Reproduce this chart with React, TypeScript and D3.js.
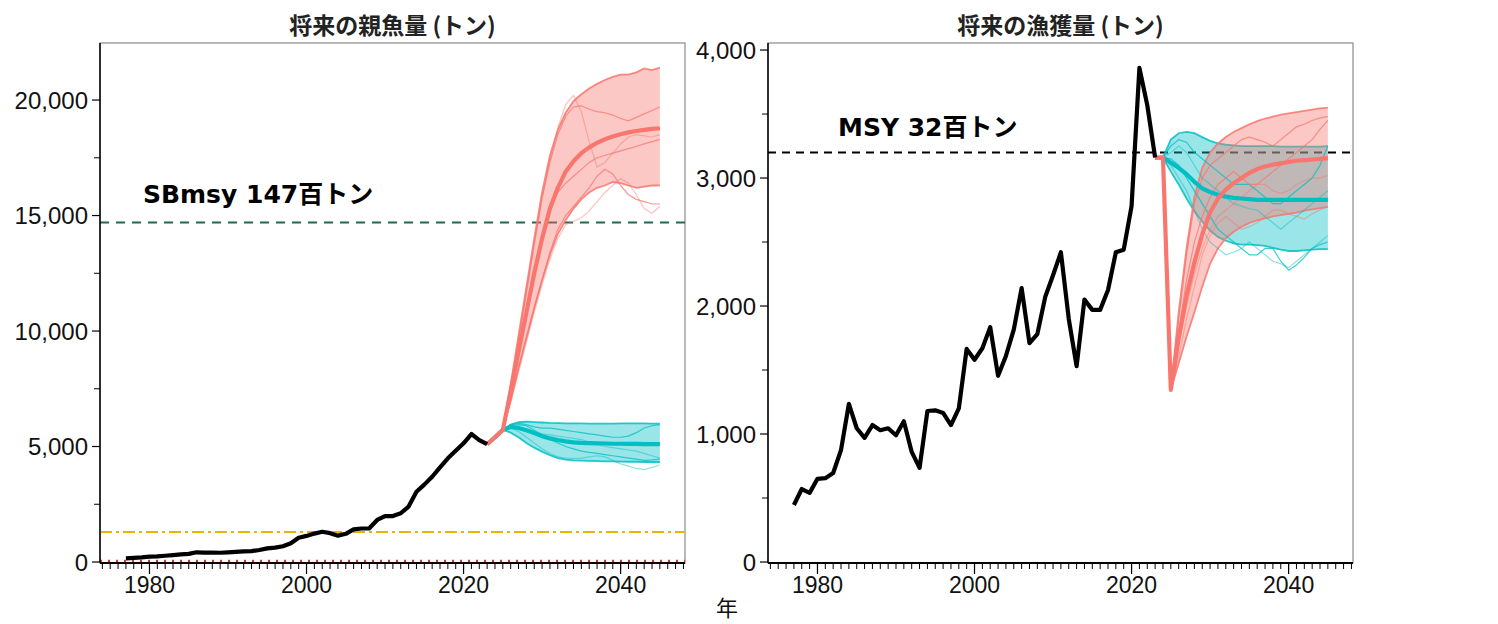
import React from 'react';
import * as d3 from 'd3';

// ---------- data ----------
const obsYears = d3.range(1977, 2024);
const futYears = d3.range(2023, 2046);

const ssbObs = [160,180,200,230,240,270,300,330,350,420,
  410,410,400,420,440,460,470,520,590,620,
  680,810,1050,1130,1230,1310,1250,1140,1220,1415,
  1450,1460,1820,1990,1990,2110,2400,3040,3350,3690,
  4100,4490,4820,5140,5540,5280,5100];

const catchObs = [445,570,540,650,655,695,875,1235,1045,970,
  1070,1030,1045,990,1100,860,735,1180,1185,1165,
  1070,1200,1665,1580,1670,1835,1455,1610,1815,2140,
  1710,1780,2070,2240,2420,1900,1530,2050,1970,1970,
  2125,2420,2440,2780,3860,3570,3160];

// future SSB, Fmsy-type scenario (red)
const redSsbMed = [5100,5400,5720,7400,9100,10800,12500,14000,15300,16200,16900,17350,17700,17950,18150,18300,18420,18520,18600,18660,18710,18750,18780];
const redSsbHi = [5100,5400,5720,7700,9800,11900,14000,16000,17600,18700,19450,19950,20250,20500,20700,20870,21000,21100,21100,21200,21370,21300,21400];
const redSsbLo = [5100,5400,5720,7000,8400,9700,11000,12200,13300,14200,14800,15300,15700,16000,16200,16300,16450,16400,16300,16200,16250,16300,16300];
const redSsbSims = [
  [5100,5400,5720,7600,9600,11700,13800,15800,17300,18500,19300,19700,19750,19600,19500,19450,19350,19200,19100,19250,19400,19550,19700],
  [5100,5400,5720,7500,9500,11600,13700,15700,17400,18800,19800,20200,19500,18200,17100,17300,17700,18100,18400,18500,18450,18400,18500],
  [5100,5400,5720,7000,8400,9700,11000,12200,13400,14400,15000,15400,15800,16200,16700,17000,16800,16300,15900,15700,15600,15500,15500],
  [5100,5400,5720,6900,8200,9500,10800,12000,13100,14000,14600,14750,14900,15200,15600,16000,16300,16600,16400,15900,15300,15100,15400],
  [5100,5400,5720,7300,9000,10700,12400,14000,15300,16000,16400,16700,17000,17300,17500,17600,17700,17800,17900,18000,18100,18200,18300],
];

// future SSB, current-catch scenario (cyan)
const cyanSsbMed = [5100,5400,5720,5850,5800,5700,5580,5450,5350,5280,5220,5180,5160,5150,5140,5130,5120,5120,5110,5110,5100,5100,5100];
const cyanSsbHi = [5100,5400,5720,5950,6050,6080,6060,6040,6020,6010,6000,6000,6000,5990,5990,5990,5990,6000,6000,6000,6000,5990,5990];
const cyanSsbLo = [5100,5400,5720,5600,5400,5150,4950,4780,4620,4500,4430,4400,4390,4380,4370,4360,4360,4350,4340,4340,4330,4330,4330];
const cyanSsbSims = [
  [5100,5400,5720,5900,5950,5900,5700,5500,5300,5150,5000,4900,4800,4750,4700,4650,4600,4550,4500,4450,4400,4420,4450],
  [5100,5400,5720,5800,5650,5400,5150,4900,4700,4550,4500,4480,4500,4550,4600,4550,4400,4250,4150,4050,4000,4100,4200],
  [5100,5400,5720,5950,6000,5950,5850,5800,5800,5750,5700,5650,5600,5550,5500,5450,5400,5400,5450,5600,5800,5900,5950],
  [5100,5400,5720,5850,5850,5750,5650,5550,5500,5450,5400,5350,5300,5200,5100,5000,4950,4900,4850,4800,4700,4600,4500],
];

// future catch (red)
const redCatchMed = [3160,3160,1345,1750,2080,2340,2560,2730,2840,2910,2960,3000,3040,3070,3090,3105,3115,3125,3135,3140,3145,3150,3155];
const redCatchHi = [3160,3160,1345,1950,2450,2850,3080,3200,3270,3320,3360,3390,3420,3445,3465,3480,3495,3505,3515,3525,3535,3545,3550];
const redCatchLo = [3160,3160,1345,1550,1760,1950,2150,2330,2450,2530,2580,2620,2650,2670,2685,2700,2710,2720,2730,2745,2755,2765,2775];
const redCatchSims = [
  [3160,3160,1345,1900,2400,2800,3000,3100,3150,3200,3250,3300,3320,3300,3280,3250,3300,3350,3400,3420,3450,3470,3480],
  [3160,3160,1345,1600,1900,2150,2400,2550,2650,2700,2650,2600,2620,2650,2700,2750,2750,2720,2700,2680,2720,2750,2780],
  [3160,3160,1345,1800,2200,2500,2700,2850,2950,3000,3050,3000,2950,2950,3000,3050,3100,3150,3200,3250,3300,3380,3450],
  [3160,3160,1345,1700,2000,2250,2450,2600,2700,2750,2800,2850,2900,2950,2950,2900,2880,2900,2950,2980,3000,3000,3020],
];

// future catch (cyan)
const cyanCatchMed = [3160,3160,3120,3080,3030,2970,2920,2890,2870,2855,2845,2840,2835,2830,2830,2830,2830,2830,2830,2830,2830,2830,2830];
const cyanCatchHi = [3160,3160,3300,3350,3360,3350,3320,3290,3270,3260,3255,3250,3250,3250,3250,3250,3245,3245,3245,3245,3245,3245,3250];
const cyanCatchLo = [3160,3160,3050,2950,2840,2740,2660,2590,2540,2510,2490,2480,2480,2475,2470,2455,2440,2430,2430,2435,2440,2445,2445];
const cyanCatchSims = [
  [3160,3160,3250,3300,3280,3200,3150,3100,3050,3000,2950,2950,2950,2900,2850,2800,2800,2850,2900,2950,3000,3100,3250],
  [3160,3160,3100,3000,2900,2750,2600,2500,2450,2400,2420,2450,2500,2450,2400,2350,2330,2300,2350,2400,2450,2500,2550],
  [3160,3160,3150,3100,3000,2900,2800,2700,2600,2550,2500,2450,2400,2400,2450,2450,2350,2280,2320,2380,2450,2480,2500],
  [3160,3160,3200,3250,3200,3100,3000,2950,2900,2850,2800,2780,2760,2750,2700,2650,2600,2650,2700,2750,2800,2850,2900],
];

const ssbTicks = [0, 5000, 10000, 15000, 20000];
const ssbMinor = [2500, 7500, 12500, 17500];
const catchTicks = [0, 1000, 2000, 3000, 4000];
const catchMinor = [500, 1500, 2500, 3500];
const yearTicks = [1980, 2000, 2020, 2040];
const yearMinor = d3.range(1974, 2049);

const SBMSY = 14700;
const SBLIMIT = 1300;
const SBBAN = 50;
const MSY = 3200;

const RED = '#F8766D';
const CYAN = '#00BFC4';
const LABEL_FONT = "'Liberation Sans', Arial, sans-serif";
const JP_FONT = "'Noto Sans CJK JP', sans-serif";
const NOTE_FONT = "'DejaVu Sans', 'Noto Sans CJK JP', sans-serif";

// ---------- panel ----------
type Band = { med: number[]; hi: number[]; lo: number[]; sims: number[][]; color: string };

function Panel(props: {
  x0: number; x1: number; top: number; bottom: number; ymax: number;
  obs: number[]; bands: Band[]; yTicks: number[]; yMinor: number[]; title: string;
  refs: (y: d3.ScaleLinear<number, number>) => React.ReactNode;
}) {
  const { x0, x1, top, bottom, ymax, obs, bands, yTicks, yMinor, title } = props;
  const x = d3.scaleLinear().domain([1973.7, 2048.2]).range([x0, x1]);
  const y = d3.scaleLinear().domain([0, ymax]).range([bottom, top]);
  const fmt = d3.format(',');
  const line = d3.line<number>().x((_, i) => x(futYears[i])).y(d => y(d));
  const obsLine = d3.line<number>().x((_, i) => x(obsYears[i])).y(d => y(d));
  const axisY = bottom + 1;
  return (
    <g>
      <text x={(x0 + x1) / 2} y={34} textAnchor="middle" fontFamily={JP_FONT} fontWeight="bold" fontSize={23} fill="#222">{title}</text>
      <rect x={x0} y={top} width={x1 - x0} height={axisY - top} fill="none" stroke="#8a8a8a" strokeWidth={1.2} />
      {props.refs(y)}
      {bands.map((b, k) => {
        const ar = d3.area<number>().x((_, i) => x(futYears[i])).y0((_, i) => y(b.lo[i])).y1(d => y(d));
        return (
          <g key={'band' + k}>
            <path d={ar(b.hi) || ''} fill={b.color} fillOpacity={0.4} stroke="none" />
            <path d={line(b.hi) || ''} fill="none" stroke={b.color} strokeWidth={1.8} strokeOpacity={0.85} />
            <path d={line(b.lo) || ''} fill="none" stroke={b.color} strokeWidth={1.8} strokeOpacity={0.85} />
          </g>
        );
      })}
      {bands.map((b, k) => (
        <g key={'sims' + k}>
          {b.sims.map((s, j) => (
            <path key={j} d={line(s) || ''} fill="none" stroke={b.color} strokeWidth={1.2} strokeOpacity={j % 2 === 0 ? 0.75 : 0.45} />
          ))}
        </g>
      ))}
      {bands.map((b, k) => (
        <path key={'med' + k} d={line(b.med) || ''} fill="none" stroke={b.color} strokeWidth={4.2} strokeLinejoin="round" />
      ))}
      <path d={obsLine(obs) || ''} fill="none" stroke="#000" strokeWidth={4.2} strokeLinejoin="round" />
      {/* y axis */}
      <line x1={x0} x2={x0} y1={top} y2={axisY} stroke="#000" strokeWidth={1.5} />
      {yTicks.map(t => (
        <g key={'yt' + t}>
          <line x1={x0 - 8} x2={x0} y1={y(t)} y2={y(t)} stroke="#000" strokeWidth={1.2} />
          <text x={x0 - 12} y={y(t)} dy="0.36em" textAnchor="end" fontFamily={LABEL_FONT} fontSize={24} fill="#111">{fmt(t)}</text>
        </g>
      ))}
      {yMinor.map(t => (
        <line key={'ym' + t} x1={x0 - 6} x2={x0} y1={y(t)} y2={y(t)} stroke="#000" strokeWidth={1} />
      ))}
      {/* x axis */}
      <line x1={x0} x2={x1} y1={axisY} y2={axisY} stroke="#000" strokeWidth={2} />
      {yearMinor.map(t => (
        <line key={'xm' + t} x1={x(t)} x2={x(t)} y1={axisY} y2={axisY + 6} stroke="#000" strokeWidth={1} />
      ))}
      {yearTicks.map(t => (
        <g key={'xt' + t}>
          <line x1={x(t)} x2={x(t)} y1={axisY} y2={axisY + 11} stroke="#000" strokeWidth={1.2} />
          <text x={x(t)} y={axisY + 30} textAnchor="middle" fontFamily={LABEL_FONT} fontSize={23} fill="#111">{t}</text>
        </g>
      ))}
    </g>
  );
}

export default function App() {
  const ssbBands: Band[] = [
    { med: cyanSsbMed, hi: cyanSsbHi, lo: cyanSsbLo, sims: cyanSsbSims, color: CYAN },
    { med: redSsbMed, hi: redSsbHi, lo: redSsbLo, sims: redSsbSims, color: RED },
  ];
  const catchBands: Band[] = [
    { med: cyanCatchMed, hi: cyanCatchHi, lo: cyanCatchLo, sims: cyanCatchSims, color: CYAN },
    { med: redCatchMed, hi: redCatchHi, lo: redCatchLo, sims: redCatchSims, color: RED },
  ];
  const L = { x0: 100, x1: 685, top: 43, bottom: 562 };
  const R = { x0: 768, x1: 1353, top: 43, bottom: 562 };
  return (
    <svg width={1498} height={624} style={{ position: 'fixed', left: 0, top: 0, background: '#fff' }}>
      <rect width={1498} height={624} fill="#fff" />
      <Panel {...L} ymax={22470} obs={ssbObs} bands={ssbBands} yTicks={ssbTicks} yMinor={ssbMinor}
        title="将来の親魚量 (トン)"
        refs={(y) => [
          <line key="msy" x1={L.x0} x2={L.x1} y1={y(SBMSY)} y2={y(SBMSY)} stroke="#1d6b50" strokeWidth={2} strokeDasharray="9,7" />,
          <line key="lim" x1={L.x0} x2={L.x1} y1={y(SBLIMIT)} y2={y(SBLIMIT)} stroke="#E8B500" strokeWidth={2} strokeDasharray="12,4,3,4" />,
          <line key="ban" x1={L.x0} x2={L.x1} y1={y(SBBAN)} y2={y(SBBAN)} stroke="#e0302a" strokeWidth={2.2} strokeDasharray="2,6" />,
          <text key="t" x={143} y={203} fontFamily={NOTE_FONT} fontWeight="bold" fontSize={25} fill="#000">SBmsy 147百トン</text>,
        ]} />
      <Panel {...R} ymax={4055} obs={catchObs} bands={catchBands} yTicks={catchTicks} yMinor={catchMinor}
        title="将来の漁獲量 (トン)"
        refs={(y) => [
          <line key="msy" x1={R.x0} x2={R.x1} y1={y(MSY)} y2={y(MSY)} stroke="#000" strokeWidth={2} strokeDasharray="8,6" />,
          <text key="t" x={838} y={136} fontFamily={NOTE_FONT} fontWeight="bold" fontSize={25} fill="#000">MSY 32百トン</text>,
        ]} />
      <text x={727} y={616} textAnchor="middle" fontFamily={JP_FONT} fontSize={22} fill="#111">年</text>
    </svg>
  );
}
